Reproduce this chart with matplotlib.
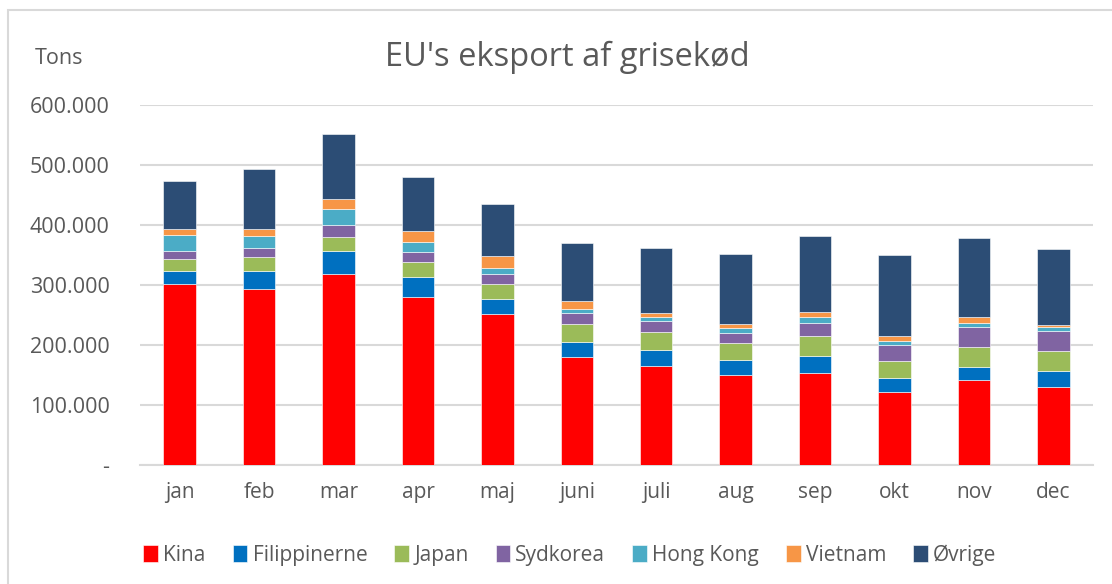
import numpy as np
import matplotlib.pyplot as plt
from matplotlib.patches import Rectangle
from matplotlib.ticker import FuncFormatter

plt.rcParams['font.family'] = ['Open Sans', 'DejaVu Sans']

maaneder = ['jan', 'feb', 'mar', 'apr', 'maj', 'juni', 'juli', 'aug', 'sep', 'okt', 'nov', 'dec']

# tons
kina = [302000, 293000, 319000, 280000, 251000, 180000, 165600, 150600, 152800, 122200, 141100, 129400]
filippinerne = [21000, 31000, 38000, 34000, 25000, 24400, 26600, 25000, 29400, 22800, 22200, 27800]
japan = [20600, 23000, 23300, 24400, 25600, 30600, 30000, 27700, 32800, 28300, 32800, 32800]
sydkorea = [13300, 15500, 19000, 17000, 17200, 18300, 17800, 16700, 22200, 27300, 33900, 33900]
hongkong = [26700, 20000, 26700, 15500, 9400, 6700, 6700, 8900, 9500, 6100, 6700, 6100]
vietnam = [9400, 10500, 17000, 19500, 20000, 12800, 6600, 6700, 8300, 7700, 10000, 2800]
oevrige = [81000, 100000, 108000, 90000, 86700, 97800, 108900, 115500, 126100, 135000, 131600, 126600]

serier = [
    ('Kina', kina, '#FF0000'),
    ('Filippinerne', filippinerne, '#0070C0'),
    ('Japan', japan, '#9BBB59'),
    ('Sydkorea', sydkorea, '#8064A2'),
    ('Hong Kong', hongkong, '#4BACC6'),
    ('Vietnam', vietnam, '#F79646'),
    ('Øvrige', oevrige, '#2C4D75'),
]

tekstfarve = '#595959'

fig = plt.figure(figsize=(11.12, 5.84), dpi=100)
ax = fig.add_axes([140 / 1112, 1 - 465 / 584, (1093 - 140) / 1112, (465 - 105) / 584])

x = np.arange(len(maaneder))
bund = np.zeros(len(maaneder))
for navn, vaerdier, farve in serier:
    ax.bar(x, vaerdier, width=0.41, bottom=bund, color=farve, label=navn,
           edgecolor='white', linewidth=0.4, zorder=3)
    bund += np.array(vaerdier)

ax.set_xlim(-0.5, len(maaneder) - 0.5)
ax.set_ylim(0, 600000)
ax.set_yticks(np.arange(0, 600001, 100000))
ax.yaxis.set_major_formatter(FuncFormatter(
    lambda v, p: '-' if v == 0 else f'{int(v):,}'.replace(',', '.')))
ax.set_xticks(x)
ax.set_xticklabels(maaneder)

ax.grid(axis='y', color='#d9d9d9', linewidth=1.5, zorder=0)
for s in ['top', 'right', 'left']:
    ax.spines[s].set_visible(False)
ax.spines['bottom'].set_color('#d9d9d9')
ax.spines['bottom'].set_linewidth(1.5)
ax.tick_params(axis='both', length=0, labelsize=15, colors=tekstfarve)
ax.tick_params(axis='y', labelsize=15.5, pad=22)
ax.tick_params(axis='x', pad=12)

fig.text(567 / 1112, 1 - 57 / 584, "EU's eksport af grisekød", ha='center', va='center',
         fontsize=23.5, color=tekstfarve)
fig.text(35 / 1112, 1 - 59 / 584, 'Tons', ha='left', va='center', fontsize=15.5, color=tekstfarve)

fig.legend(loc='center', bbox_to_anchor=(570 / 1112, 1 - 555 / 584), ncol=7, frameon=False,
           fontsize=15, handlelength=0.7, handleheight=0.9, handletextpad=0.25,
           columnspacing=1.3, labelcolor=tekstfarve)

fig.patches.append(Rectangle((8 / 1112, -0.1), 1.2, 1 - 10 / 584 + 0.1, transform=fig.transFigure,
                             fill=False, edgecolor='#d9d9d9', linewidth=1.5))

fig.savefig('out.png', dpi=100)
